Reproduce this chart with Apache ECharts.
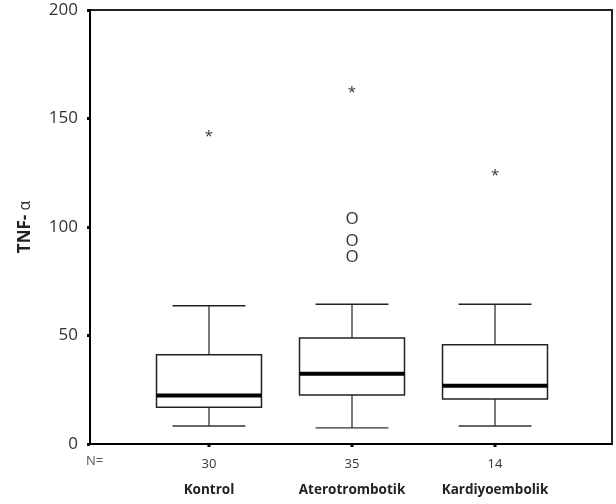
<!DOCTYPE html>
<html>
<head>
<meta charset="utf-8">
<script src="https://cdn.jsdelivr.net/npm/echarts@6/dist/echarts.min.js"></script>
<style>
  html, body { margin: 0; padding: 0; background: #fff; }
  #chart { width: 616px; height: 504px; }
</style>
</head>
<body>
<div id="chart"></div>
<script>
// group data
const categories = ['Kontrol', 'Aterotrombotik', 'Kardiyoembolik']
const counts = [30, 35, 14]
const whiskerLow = [8.3, 7.4, 8.3]
const q1 = [16.9, 22.6, 20.7]
const median = [22.4, 32.4, 26.8]
const q3 = [41.1, 48.8, 45.7]
const whiskerHigh = [63.7, 64.4, 64.4]
// extremes (*) and outliers (O): [group index, value]
const extremes = [[0, 143.2], [1, 163.4], [2, 124.8]]
const outliers = [[1, 104.5], [1, 94.1], [1, 86.7]]
const yTicks = [0, 50, 100, 150, 200]

const boxData = categories.map((c, i) => [i + 1, whiskerLow[i], q1[i], median[i], q3[i], whiskerHigh[i], i])

const font = '"Open Sans", "DejaVu Sans", sans-serif'

function renderBox(params, api) {
  const x = api.value(0)
  const unit = api.size([1, 0])[0]
  const half = unit * 0.367
  const cap = unit * 0.255
  const pLow = api.coord([x, api.value(1)])
  const pQ1 = api.coord([x, api.value(2)])
  const pMed = api.coord([x, api.value(3)])
  const pQ3 = api.coord([x, api.value(4)])
  const pHigh = api.coord([x, api.value(5)])
  const pZero = api.coord([x, 0])
  const idx = api.value(6)
  const line = { stroke: '#333', lineWidth: 1.3 }
  return {
    type: 'group',
    children: [
      { type: 'line', shape: { x1: pHigh[0], y1: pHigh[1], x2: pQ3[0], y2: pQ3[1] }, style: line },
      { type: 'line', shape: { x1: pQ1[0], y1: pQ1[1], x2: pLow[0], y2: pLow[1] }, style: line },
      { type: 'line', shape: { x1: pHigh[0] - cap, y1: pHigh[1], x2: pHigh[0] + cap, y2: pHigh[1] }, style: { stroke: '#222', lineWidth: 1.6 } },
      { type: 'line', shape: { x1: pLow[0] - cap, y1: pLow[1], x2: pLow[0] + cap, y2: pLow[1] }, style: line },
      { type: 'rect', shape: { x: pQ3[0] - half, y: pQ3[1], width: half * 2, height: pQ1[1] - pQ3[1] },
        style: { fill: '#fff', stroke: '#222', lineWidth: 1.5 } },
      { type: 'line', shape: { x1: pMed[0] - half, y1: pMed[1], x2: pMed[0] + half, y2: pMed[1] }, style: { stroke: '#000', lineWidth: 4 } },
      // category tick below the axis
      { type: 'rect', shape: { x: pZero[0] - 1.5, y: pZero[1], width: 3, height: 3 }, style: { fill: '#000' } },
      { type: 'text', x: pZero[0], y: pZero[1] + 20,
        style: { text: String(counts[idx]), fill: '#333', font: '13px ' + font, align: 'center', verticalAlign: 'middle' } },
      { type: 'text', x: pZero[0], y: pZero[1] + 46,
        style: { text: categories[idx], fill: '#222', font: 'bold 13.5px ' + font, align: 'center', verticalAlign: 'middle' } }
    ]
  }
}

// SPSS style point markers drawn as glyphs
function glyphRenderer(glyph, size, dy) {
  return function (params, api) {
    const p = api.coord([api.value(0) + 1, api.value(1)])
    return {
      type: 'text', x: p[0], y: p[1] + dy,
      style: { text: glyph, fill: '#333', font: size + 'px ' + font, align: 'center', verticalAlign: 'middle' }
    }
  }
}

const chart = echarts.init(document.getElementById('chart'), null, { renderer: 'canvas' })
chart.setOption({
  animation: false,
  backgroundColor: '#fff',
  grid: {
    left: 90, right: 4, top: 10, bottom: 60,
    show: true, borderColor: '#222', borderWidth: 2, backgroundColor: 'transparent'
  },
  xAxis: {
    type: 'value',
    min: 0.168,
    max: 3.818,
    axisLine: { show: true, onZero: false, lineStyle: { color: '#000', width: 2 } },
    axisTick: { show: false },
    axisLabel: { show: false },
    splitLine: { show: false }
  },
  yAxis: {
    type: 'value',
    min: yTicks[0],
    max: yTicks[yTicks.length - 1],
    interval: 50,
    name: '{b|TNF-}{a|\u00a0α}',
    nameLocation: 'middle',
    nameRotate: 90,
    nameGap: 56,
    nameTextStyle: {
      rich: {
        b: { fontFamily: font, fontWeight: 'bold', fontSize: 17, color: '#222' },
        a: { fontFamily: font, fontSize: 16, color: '#333' }
      }
    },
    axisLine: { show: true, lineStyle: { color: '#000', width: 2 } },
    axisTick: { show: true, length: 3, lineStyle: { color: '#000', width: 3 } },
    axisLabel: { color: '#333', fontFamily: font, fontSize: 17, margin: 12 },
    splitLine: { show: false }
  },
  graphic: [
    { type: 'text', left: 86, top: 455, style: { text: 'N=', fill: '#555', font: '13px ' + font } }
  ],
  series: [
    {
      type: 'custom',
      renderItem: renderBox,
      data: boxData,
      clip: false,
      z: 3
    },
    {
      type: 'custom',
      renderItem: glyphRenderer('*', 15, 3),
      data: extremes,
      clip: false,
      z: 4
    },
    {
      type: 'custom',
      renderItem: glyphRenderer('O', 17, 1.5),
      data: outliers,
      clip: false,
      z: 4
    }
  ]
})
</script>
</body>
</html>
